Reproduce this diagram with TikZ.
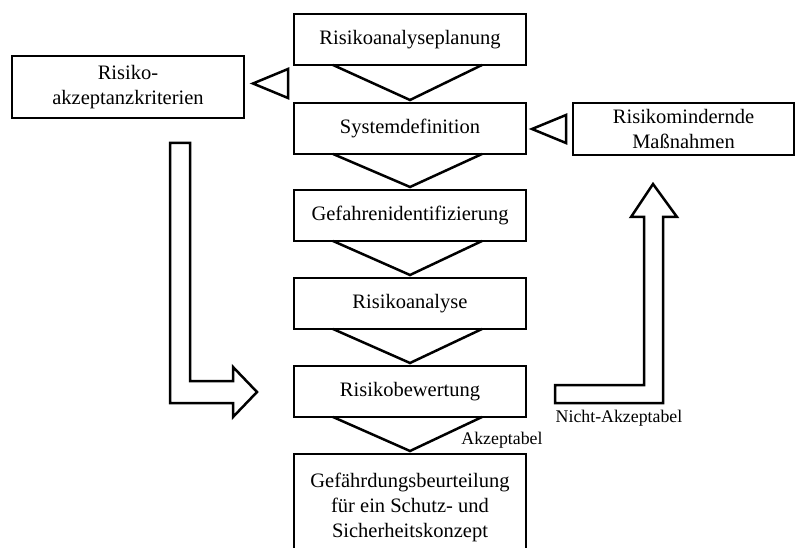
\documentclass[tikz,border=0pt]{standalone}
\usepackage{fontspec}
\setmainfont{Liberation Serif}
\tikzset{
  stage/.style={draw, line width=2.5pt, outer sep=0pt, inner sep=0pt, minimum width=232pt, minimum height=51pt, align=center, font=\fontsize{20.5}{25}\selectfont},
  chevron/.style={line width=2.5pt, line join=miter},
  bigarrow/.style={draw, line width=2.5pt, line join=miter, fill=white},
  smalllabel/.style={inner sep=0pt, font=\fontsize{17.8}{20}\selectfont}
}
\begin{document}
\begin{tikzpicture}[x=1pt, y=-1pt]
                    \useasboundingbox (0,0) rectangle (795,548);
                    \clip (0,0) rectangle (795,548);

                    %%main column
                    \node[stage] (plan) at (410,39.5){Risikoanalyseplanung};
                    \node[stage] (sysdef) at (410,128.5){Systemdefinition};
                    \node[stage] (gefid) at (410,215.5){Gefahrenidentifizierung};
                    \node[stage] (analyse) at (410,303.5){Risikoanalyse};
                    \node[stage] (bewert) at (410,391.5){Risikobewertung};
                    \node[stage, minimum height=106pt] (konzept) at (410,507){Gefährdungsbeurteilung\\für ein Schutz- und\\Sicherheitskonzept};

                    %%side boxes
                    \node[stage, minimum height=62pt] (kriterien) at (128,87){Risiko-\\akzeptanzkriterien};
                    \node[stage, minimum width=221pt, minimum height=52pt] (massn) at (683.5,129){Risikomindernde\\Maßnahmen};

                    %%chevrons
                    \foreach \a/\b in {plan/sysdef, sysdef/gefid, gefid/analyse, analyse/bewert, bewert/konzept}
                        \draw[chevron] ([xshift=-77pt]\a.south) -- ([yshift=3pt]\b.north) -- ([xshift=72pt]\a.south);

                    %%hollow heads
                    \draw[chevron] (288,69) -- (253,83.5) -- (288,98) -- cycle;
                    \draw[chevron] (566,115) -- (532,129) -- (566,143) -- cycle;

                    %%big arrows
                    \draw[bigarrow] (170,143) -- (190,143) -- (190,381) -- (233,381) -- (233,367)
                        -- (257,392) -- (233,417) -- (233,403) -- (170,403) -- cycle;
                    \draw[bigarrow] (555,403) -- (555,385) -- (644,385) -- (644,217) -- (631,217)
                        -- (653,184) -- (677,217) -- (663,217) -- (663,403) -- cycle;

                    %%labels
                    \node[smalllabel] (akz) at (502,440){Akzeptabel};
                    \node[smalllabel] (nakz) at (619,418){Nicht-Akzeptabel};
\end{tikzpicture}
\end{document}
